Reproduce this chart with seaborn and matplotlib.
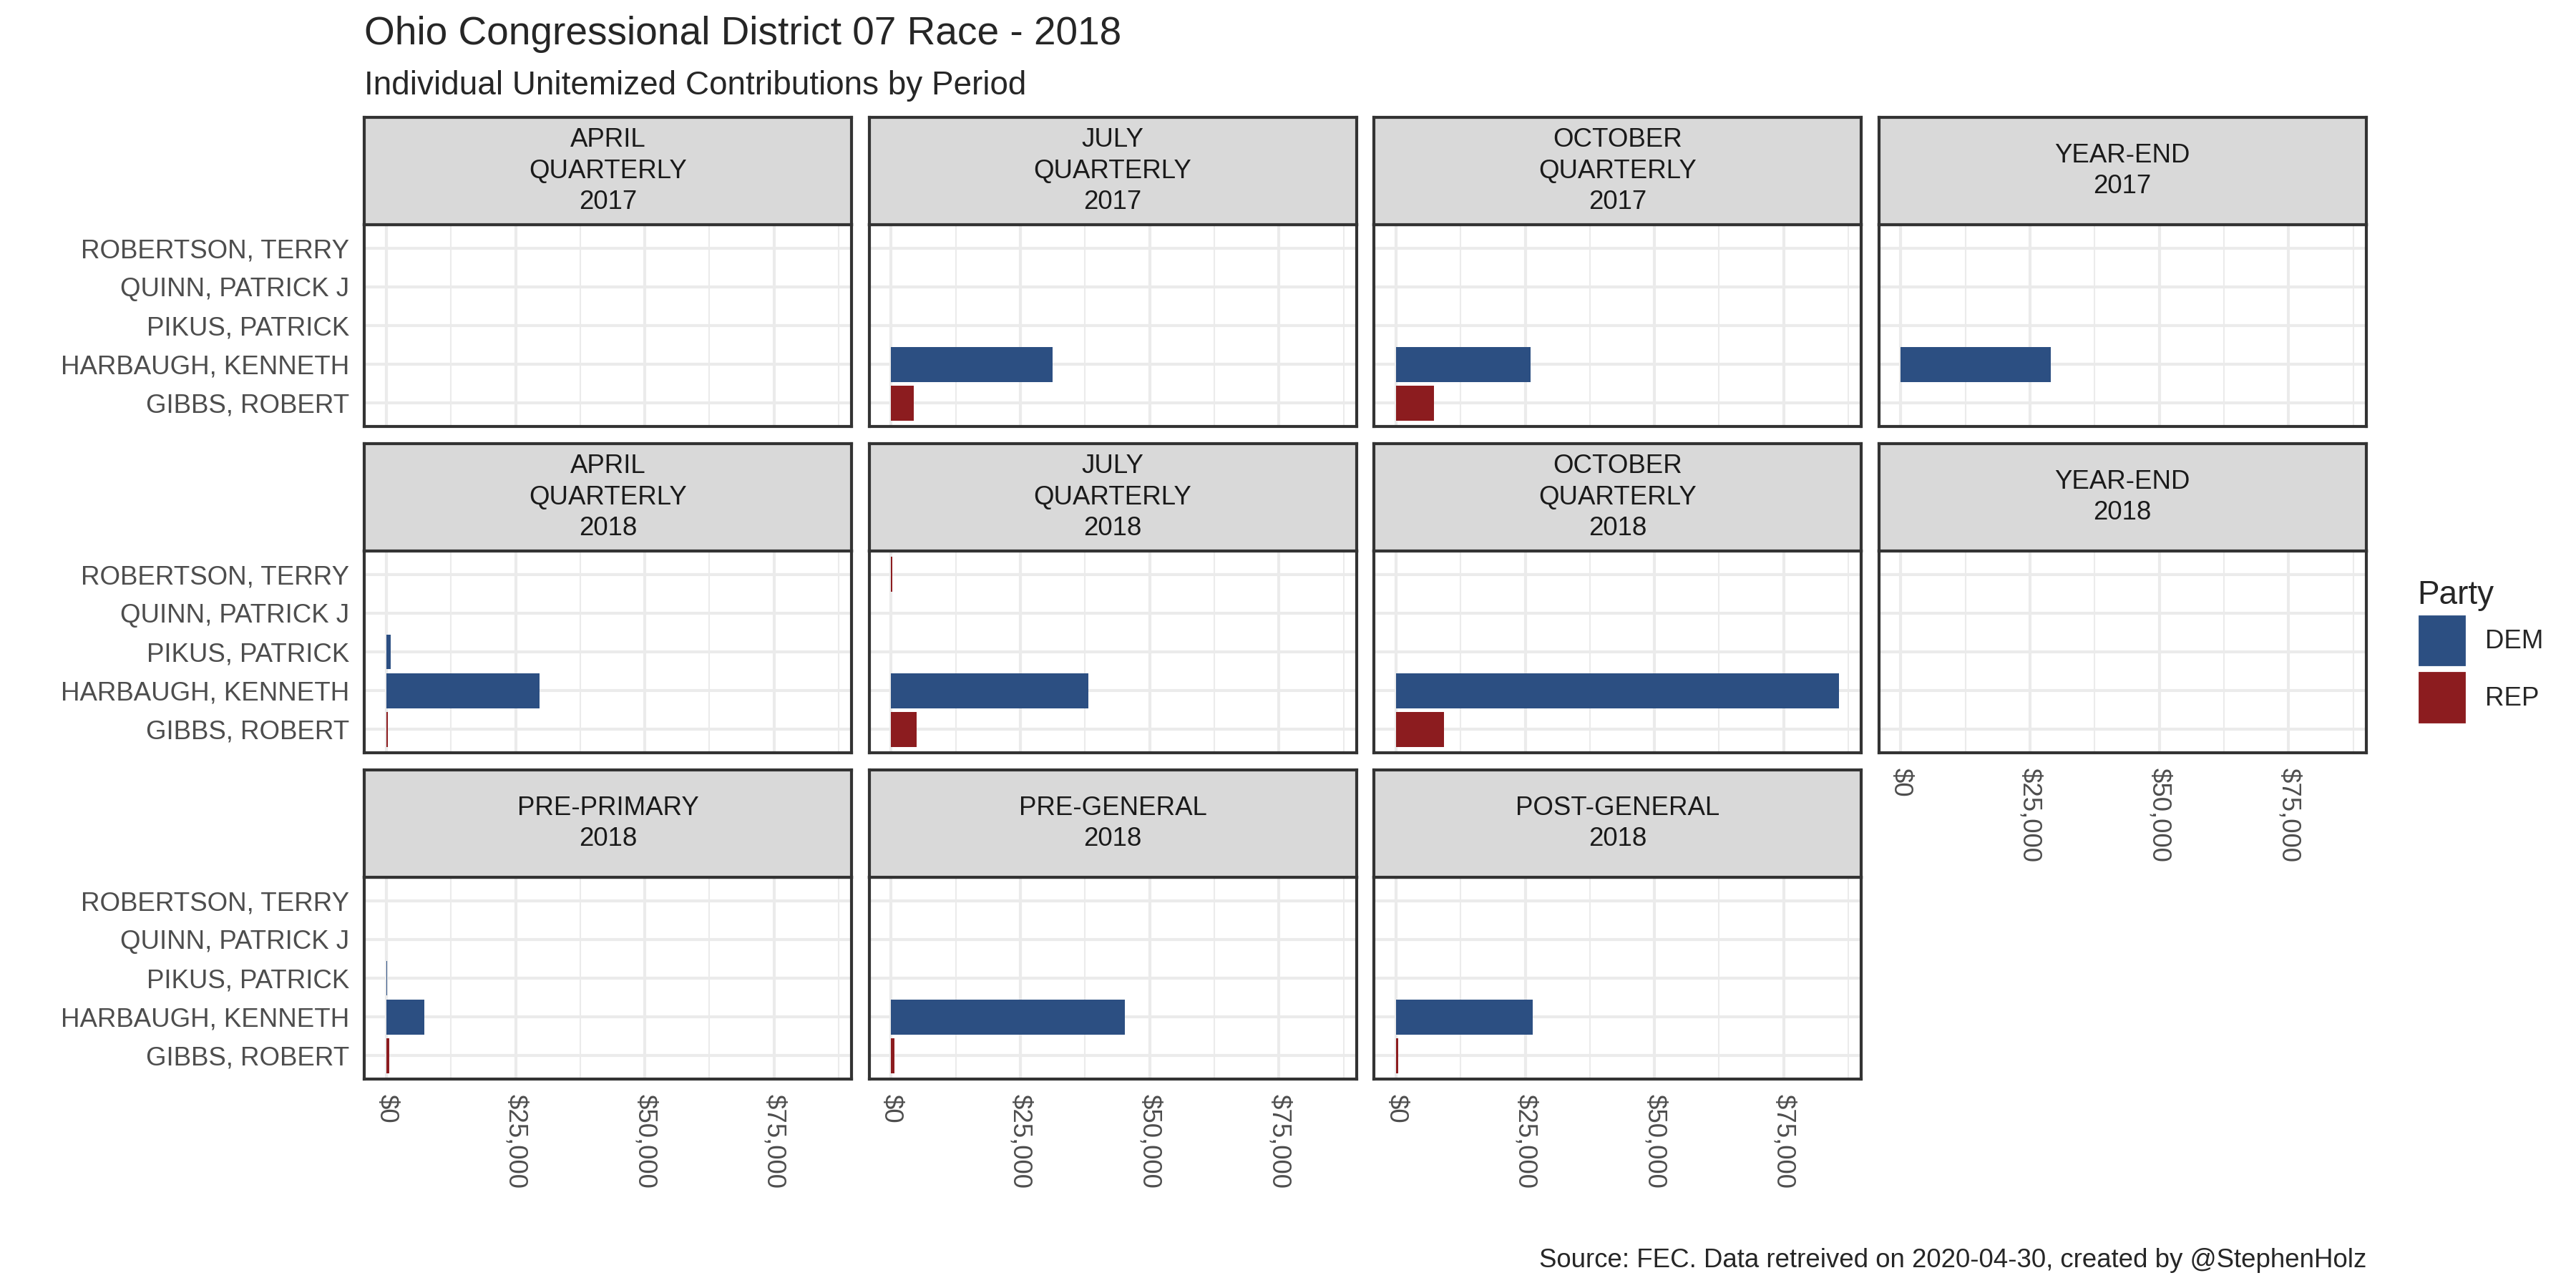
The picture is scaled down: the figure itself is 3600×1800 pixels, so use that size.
import pandas as pd
import seaborn as sns
import matplotlib.pyplot as plt
from matplotlib.ticker import MultipleLocator, FuncFormatter
from matplotlib.patches import Patch

# Reporting periods (facet order, wrapped 4 per row)
periods = [
    "APRIL\nQUARTERLY\n2017", "JULY\nQUARTERLY\n2017", "OCTOBER\nQUARTERLY\n2017", "YEAR-END\n2017",
    "APRIL\nQUARTERLY\n2018", "JULY\nQUARTERLY\n2018", "OCTOBER\nQUARTERLY\n2018", "YEAR-END\n2018",
    "PRE-PRIMARY\n2018", "PRE-GENERAL\n2018", "POST-GENERAL\n2018",
]

# Candidates, top to bottom, with their party
candidates = ["ROBERTSON, TERRY", "QUINN, PATRICK J", "PIKUS, PATRICK", "HARBAUGH, KENNETH", "GIBBS, ROBERT"]
cand_party = ["REP", "DEM", "DEM", "DEM", "REP"]

# Unitemized contributions per period (same order as periods)
robertson = [0, 0, 0, 0, 0, 150, 0, 0, 0, 0, 0]
quinn = [0, 0, 0, 0, 0, 0, 0, 0, 0, 0, 0]
pikus = [0, 0, 0, 0, 800, 0, 0, 0, 150, 0, 0]
harbaugh = [0, 31200, 26100, 29000, 29600, 38200, 85700, 0, 7300, 45200, 26400]
gibbs = [0, 4300, 7400, 0, 300, 4900, 9300, 0, 500, 630, 480]

parties = ["DEM", "REP"]
party_colors = {"DEM": "#2C4F82", "REP": "#8C1C1F"}

amounts = [robertson, quinn, pikus, harbaugh, gibbs]
rows = []
for name, party, vals in zip(candidates, cand_party, amounts):
    for period, v in zip(periods, vals):
        rows.append({"period": period, "candidate": name, "party": party, "amount": v})
df = pd.DataFrame(rows)

sns.set_style("white")
plt.rcParams["font.family"] = ["Liberation Sans", "DejaVu Sans"]

W, H = 3600, 1800
fig = plt.figure(figsize=(12, 6), dpi=300)


def frac(x, y, w, h):
    return [x / W, 1 - (y + h) / H, w / W, h / H]


top = df["amount"].max()
xlim = (-0.05 * top, 1.05 * top)
money = FuncFormatter(lambda v, p: f"${v:,.0f}")
dark = "#333333"

for i, period in enumerate(periods):
    r, c = divmod(i, 4)
    x0 = 509 + c * 705.5
    y0 = 314 + r * 456
    show_x = r == 2 or (r == 1 and c == 3)
    show_y = c == 0

    ax = fig.add_axes(frac(x0, y0, 681, 282))
    sub = df[df["period"] == period]
    sns.barplot(
        data=sub, x="amount", y="candidate", hue="party",
        order=candidates, hue_order=parties, palette=party_colors,
        dodge=False, width=0.9, errorbar=None, linewidth=0, saturation=1,
        legend=False, orient="h", ax=ax,
    )
    ax.set_xlim(*xlim)
    ax.set_ylim(4.6, -0.6)
    ax.set_xlabel("")
    ax.set_ylabel("")
    ax.xaxis.set_major_locator(MultipleLocator(25000))
    ax.xaxis.set_minor_locator(MultipleLocator(12500))
    ax.xaxis.set_major_formatter(money)
    ax.set_axisbelow(True)
    ax.grid(which="major", axis="both", color="#EBEBEB", lw=1.0)
    ax.grid(which="minor", axis="x", color="#EBEBEB", lw=0.5)
    for s in ax.spines.values():
        s.set_color(dark)
        s.set_linewidth(1.0)
    ax.tick_params(axis="x", which="major", length=2.75 if show_x else 0, width=0.9,
                   color=dark, labelsize=8.8, labelcolor="#4D4D4D",
                   labelbottom=show_x, pad=2.2, labelrotation=-90)
    ax.tick_params(axis="x", which="minor", length=0)
    ax.tick_params(axis="y", length=2.75 if show_y else 0, width=0.9, color=dark,
                   labelsize=8.8, labelcolor="#4D4D4D", labelleft=show_y, pad=2.2)

    # facet strip
    st = fig.add_axes(frac(x0, y0 - 150, 681, 150))
    st.set_facecolor("#D9D9D9")
    st.set_xticks([])
    st.set_yticks([])
    for s in st.spines.values():
        s.set_color(dark)
        s.set_linewidth(1.0)
    st.text(0.5, 0.5, period, ha="center", va="center", fontsize=8.8,
            color="#1A1A1A", linespacing=1.3, transform=st.transAxes)

fig.text(509 / W, 1 - 62 / H, "Ohio Congressional District 07 Race - 2018",
         fontsize=13.2, ha="left", va="baseline")
fig.text(509 / W, 1 - 132 / H, "Individual Unitemized Contributions by Period",
         fontsize=11, ha="left", va="baseline")
fig.text(3307 / W, 1 - 1771 / H, "Source: FEC. Data retreived on 2020-04-30, created by @StephenHolz",
         fontsize=8.8, ha="right", va="baseline")

handles = [Patch(facecolor=party_colors[p], label=p) for p in parties]
fig.legend(handles=handles, title="Party", loc="upper left",
           bbox_to_anchor=(3378 / W, 1 - 810 / H), frameon=False,
           fontsize=8.8, title_fontsize=11, handlelength=1.9, handleheight=2.8,
           labelspacing=0.1, handletextpad=0.7, borderpad=0, borderaxespad=0,
           alignment="left")

fig.savefig("out.png", dpi=300)
